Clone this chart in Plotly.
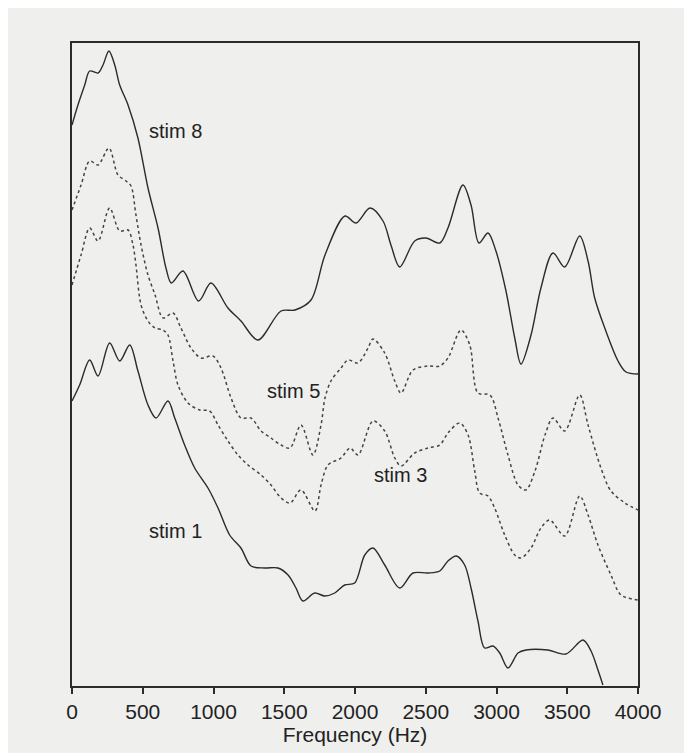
import plotly.graph_objects as go

# ---- data (frequency in Hz, relative level in arbitrary units) ----
stim8_hz = [0, 42, 90, 125, 184, 219, 261, 302, 337, 396, 466, 537, 608, 664, 702, 784, 895, 982,
            1102, 1194, 1314, 1477, 1576, 1689, 1788, 1929, 2007, 2106, 2198, 2254, 2316, 2422,
            2502, 2599, 2657, 2763, 2820, 2876, 2940, 2996, 3067, 3129, 3173, 3244, 3314, 3399,
            3482, 3588, 3647, 3694, 3765, 3859, 3915, 4000]
stim8_lv = [561, 581, 601, 615, 613, 621, 635, 621, 601, 581, 548, 498, 458, 418, 403, 415, 385, 403,
            378, 365, 346, 375, 376, 386, 431, 470, 463, 478, 465, 441, 419, 445,
            448, 443, 458, 501, 481, 443, 453, 435, 395, 348, 322, 351, 398, 433,
            419, 450, 425, 388, 358, 325, 314, 312]

stim5_hz = [0, 64, 125, 184, 261, 325, 382, 417, 452, 488, 537, 587, 643, 714, 770, 841, 912, 996,
            1053, 1124, 1194, 1265, 1336, 1406, 1477, 1541, 1618, 1703, 1760, 1788, 1830, 1901,
            1951, 2021, 2092, 2127, 2210, 2281, 2325, 2410, 2516, 2599, 2657, 2749, 2811, 2869,
            2954, 3011, 3081, 3152, 3208, 3272, 3343, 3399, 3482, 3588, 3647, 3738, 3809, 3908, 4000]
stim5_lv = [476, 501, 525, 521, 538, 511, 505, 500, 471, 441, 411, 391, 368, 373, 358, 338, 328, 330,
            318, 288, 268, 268, 255, 248, 241, 238, 261, 231, 261, 288, 305, 318,
            326, 323, 338, 347, 333, 305, 293, 316, 320, 320, 328, 356, 341, 293,
            291, 268, 231, 201, 196, 215, 251, 268, 255, 291, 261, 218, 195, 183, 176]

stim3_hz = [0, 64, 125, 184, 266, 337, 396, 431, 452, 488, 537, 587, 643, 678, 714, 749, 820, 902,
            973, 1032, 1102, 1173, 1244, 1336, 1406, 1477, 1541, 1618, 1717, 1760, 1809, 1901,
            1965, 2021, 2127, 2210, 2281, 2325, 2422, 2516, 2599, 2657, 2740, 2799, 2846, 2881,
            2940, 2987, 3058, 3129, 3173, 3244, 3314, 3376, 3482, 3588, 3647, 3717, 3809, 3880, 4000]
stim3_lv = [401, 431, 458, 445, 478, 455, 456, 441, 421, 381, 365, 358, 356, 351, 325, 301, 283, 276,
            275, 261, 245, 231, 221, 211, 201, 188, 183, 196, 175, 201, 221, 228,
            238, 231, 265, 255, 228, 220, 233, 238, 241, 253, 263, 251, 215, 193,
            190, 178, 151, 131, 128, 138, 158, 166, 150, 190, 171, 141, 111, 91, 86]

stim1_hz = [0, 54, 125, 184, 266, 337, 408, 466, 537, 594, 678, 726, 796, 867, 961, 1032, 1114,
            1194, 1265, 1362, 1456, 1527, 1583, 1632, 1715, 1786, 1857, 1927, 1998, 2069, 2127,
            2210, 2316, 2410, 2516, 2599, 2657, 2716, 2775, 2820, 2869, 2916, 2975, 3023, 3081,
            3152, 3208, 3364, 3491, 3611, 3668, 3717, 3752]
stim1_lv = [285, 301, 326, 310, 343, 325, 341, 315, 281, 268, 285, 268, 241, 218, 198, 178, 151,
            138, 120, 118, 118, 111, 98, 85, 93, 90, 93, 101, 103, 131, 138,
            121, 98, 113, 113, 115, 125, 130, 121, 98, 65, 38, 40, 33, 18,
            33, 36, 36, 32, 46, 35, 16, 1]

x_ticks = [0, 500, 1000, 1500, 2000, 2500, 3000, 3500, 4000]

labels = ["stim 8", "stim 5", "stim 3", "stim 1"]
label_hz = [728, 1567, 2325, 731]
label_lv = [555, 295, 211, 155]

INK = "#2b2b2b"
PAPER = "#efefed"
FONT = "Liberation Sans, Arial, sans-serif"

fig = go.Figure()
series = [
    (stim8_hz, stim8_lv, "solid", "stim 8"),
    (stim5_hz, stim5_lv, "dot", "stim 5"),
    (stim3_hz, stim3_lv, "dot", "stim 3"),
    (stim1_hz, stim1_lv, "solid", "stim 1"),
]
for xs, ys, dash, name in series:
    fig.add_trace(go.Scatter(
        x=xs, y=ys, mode="lines", name=name,
        line=dict(color=INK if dash == "solid" else "#444444",
                  width=1.4 if dash == "solid" else 1.5,
                  dash=dash, shape="spline", smoothing=0.9),
        showlegend=False, cliponaxis=True,
    ))

for t, xh, yl in zip(labels, label_hz, label_lv):
    fig.add_annotation(x=xh, y=yl, text=t, showarrow=False,
                       font=dict(family=FONT, size=20, color="#222222"),
                       xanchor="center", yanchor="middle")

fig.update_layout(
    width=692, height=753,
    margin=dict(l=64, r=62, t=35, b=75),
    paper_bgcolor=PAPER, plot_bgcolor=PAPER,
    font=dict(family=FONT, color="#222222"),
)
fig.update_xaxes(
    range=[0, 4000], tickvals=x_ticks, ticktext=[str(v) for v in x_ticks],
    ticks="outside", ticklen=6, tickwidth=1.5, tickcolor=INK,
    showline=True, linecolor=INK, linewidth=2, mirror=True,
    showgrid=False, zeroline=False,
    tickfont=dict(family=FONT, size=21, color="#222222"),
    title=dict(text="Frequency (Hz)", font=dict(family=FONT, size=21, color="#222222"), standoff=4),
)
fig.update_yaxes(
    range=[0, 643], showticklabels=False, ticks="",
    showline=True, linecolor=INK, linewidth=2, mirror=True,
    showgrid=False, zeroline=False,
)

fig.write_html("out.html")
